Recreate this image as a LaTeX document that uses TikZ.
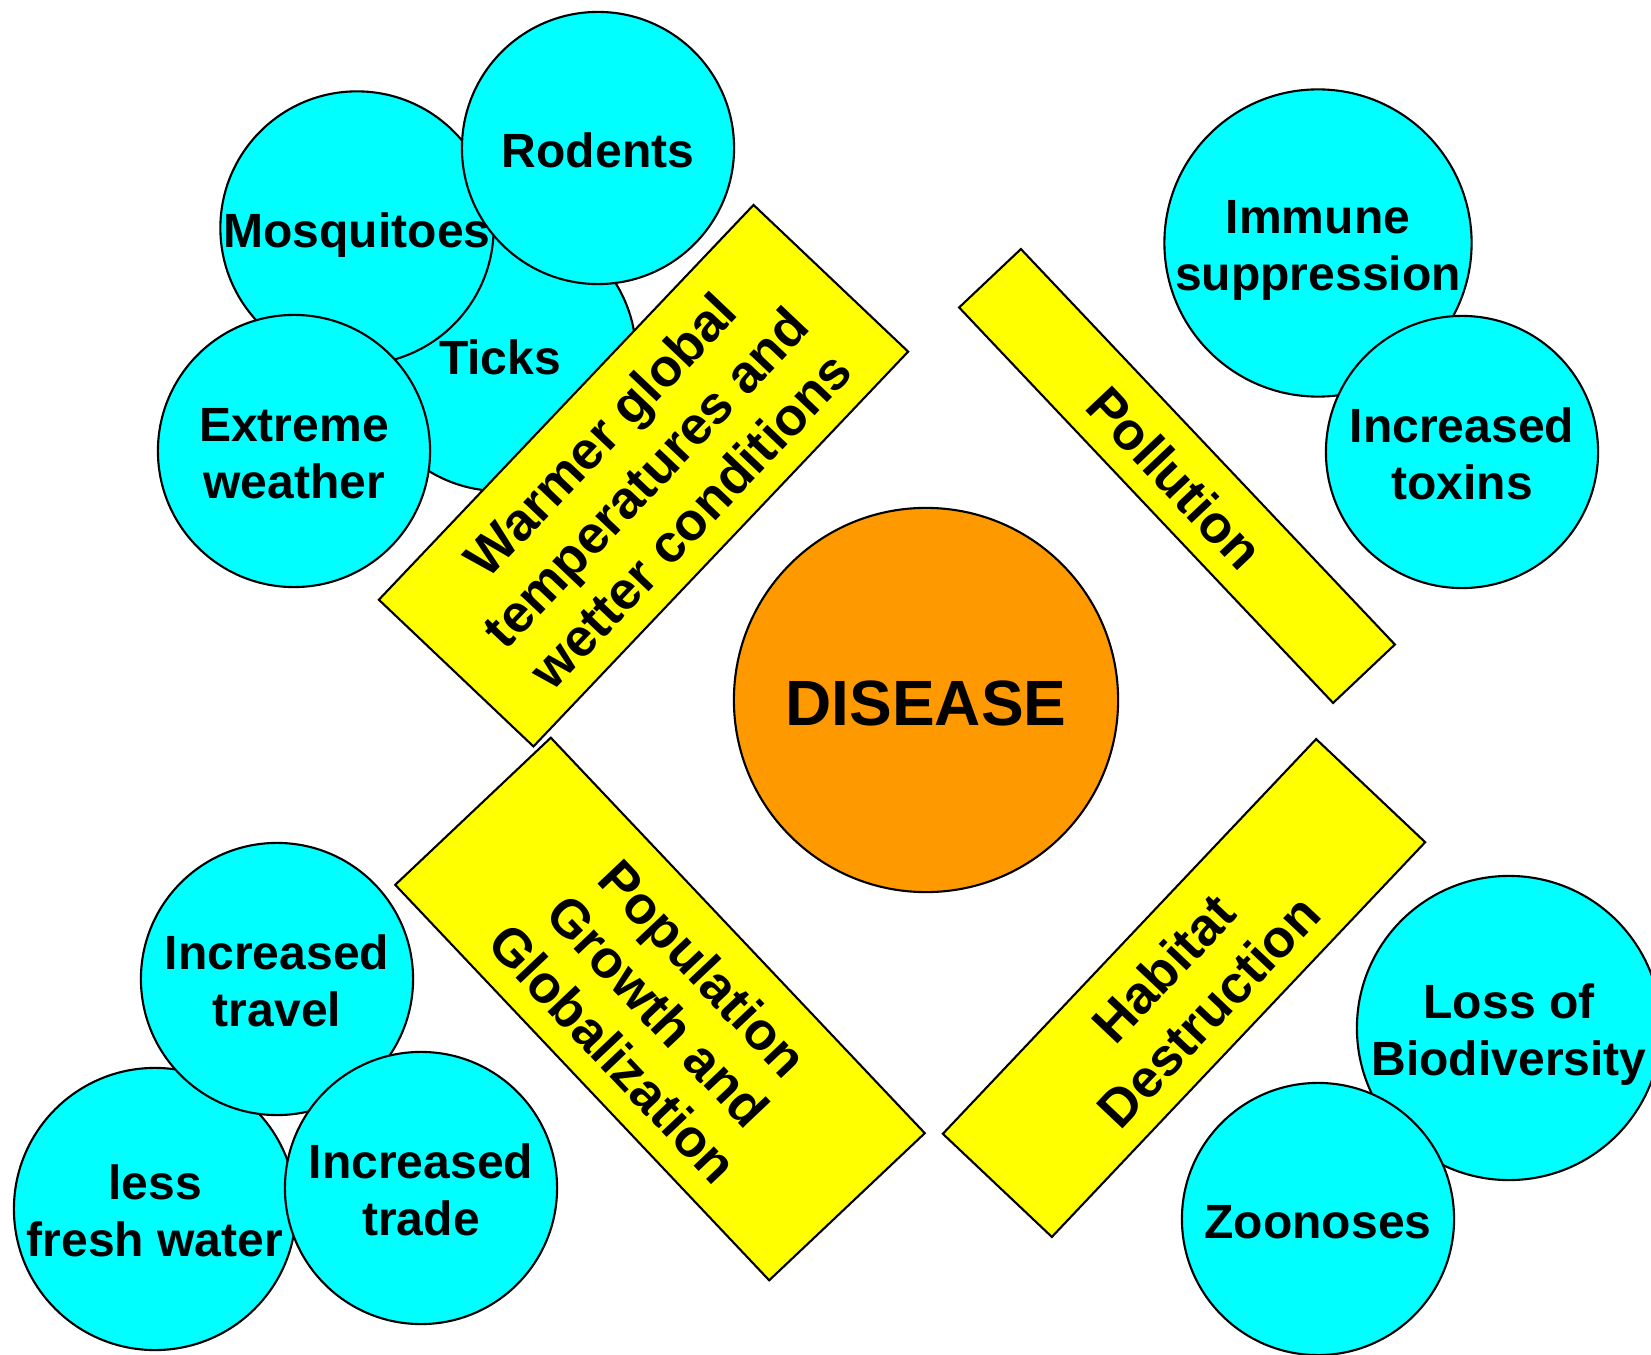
\documentclass[tikz,border=0pt]{standalone}
\usepackage{fontspec}
\setmainfont{Liberation Sans}
\definecolor{cyanc}{RGB}{0,255,255}
\definecolor{yellowc}{RGB}{255,255,0}
\definecolor{orangec}{RGB}{255,153,0}
% struts that centre each text block the way the reference does
\newcommand\hs{\rule{0pt}{1.02em}}
\newcommand\ds{\rule[-0.214em]{0pt}{0.214em}}
\tikzset{
  bub/.style={circle, draw=black, fill=cyanc, line width=0.6pt, inner sep=0pt, align=center,
    minimum size=2.72cm, font=\fontsize{13.66}{16.2}\selectfont\bfseries},
  bigbub/.style={bub, minimum size=3.04cm},
  core/.style={circle, draw=black, fill=orangec, line width=0.6pt, inner sep=0pt,
    minimum size=3.84cm, font=\fontsize{18.2}{21}\selectfont\bfseries},
  band/.style={rectangle, draw=black, fill=yellowc, line width=0.6pt, inner sep=0pt, align=center,
    font=\fontsize{15.08}{17.64}\selectfont\bfseries}
}
\begin{document}
\begin{tikzpicture}[x=0.01cm, y=-0.01cm]
\useasboundingbox (0,0) rectangle (1651,1355);
\fill[white] (0,0) rectangle (1651,1355);

% top-left cluster
\node[bub] (ticks) at (500,355) {\hs Ticks\ds};
\node[bub] (mosq) at (357,228) {\hs Mosquitoes\ds};
\node[bub] (rod) at (598,148) {\hs Rodents\ds};
\node[bub] (extreme) at (294,451) {\hs Extreme\\weather\ds};
\node[band, minimum width=5.44cm, minimum height=2.13cm, rotate=46.5] (warm) at (643.5,475.7)
  {\hs Warmer global\\temperatures and\\wetter conditions\ds};

% top-right cluster
\node[bigbub] (immune) at (1318,243) {\hs Immune\\suppression\ds};
\node[bub] (toxins) at (1462,452) {\hs Increased\\toxins\ds};
\node[band, minimum width=5.44cm, minimum height=0.85cm, rotate=-46.6] (poll) at (1177,476) {\hs Pollution\ds};

% centre
\node[core] (disease) at (926,700) {\hs DISEASE\ds};

% bottom-left cluster
\node[band, minimum width=5.44cm, minimum height=2.14cm, rotate=-46.6] (pop) at (660,1009)
  {\hs Population\\Growth and\\Globalization\ds};
\node[bub, minimum size=2.82cm] (fresh) at (155,1209) {\hs less\\fresh water\ds};
\node[bub] (travel) at (277,979) {\hs Increased\\travel\ds};
\node[bub] (trade) at (421,1188) {\hs Increased\\trade\ds};

% bottom-right cluster
\node[band, minimum width=5.43cm, minimum height=1.50cm, rotate=46.6] (hab) at (1184,988)
  {\hs Habitat\\Destruction\ds};
\node[bigbub] (loss) at (1509,1028) {\hs Loss of\\Biodiversity\ds};
\node[bub] (zoon) at (1318,1219) {\hs Zoonoses\ds};
\end{tikzpicture}
\end{document}
